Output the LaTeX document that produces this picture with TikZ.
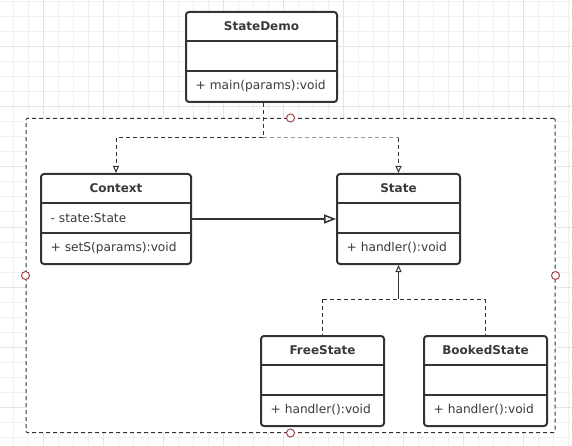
\documentclass[tikz,border=0pt]{standalone}
\usepackage{fontspec}
\setmainfont{DejaVu Sans}
\usetikzlibrary{arrows.meta}
\definecolor{ink}{HTML}{333333}
\definecolor{txt}{HTML}{3A3A3A}
\definecolor{gridminor}{HTML}{F0F0F0}
\definecolor{gridmajor}{HTML}{E4E4E4}
\definecolor{handle}{HTML}{A94444}
\definecolor{lightdash}{HTML}{9A9A9A}
\tikzset{
  classbox/.style={draw=ink, line width=2pt, rounded corners=3pt, fill=white, inner sep=0pt},
  divline/.style={draw=ink, line width=2pt},
  titletext/.style={font=\fontsize{12}{14}\selectfont\bfseries, text=txt, inner sep=0pt},
  membertext/.style={font=\fontsize{12.2}{14}\selectfont, text=txt, inner sep=0pt},
  frame/.style={draw=ink, line width=1pt, dash pattern=on 4pt off 3pt, fill=white, inner sep=0pt, rounded corners=1pt},
  dep/.style={draw=ink, line width=1pt, dash pattern=on 4pt off 3pt},
  smallhead/.style={-{Triangle[open, length=7pt, width=6pt, line width=1pt]}},
  bighead/.style={-{Triangle[open, length=12pt, width=9pt, line width=1.5pt]}},
  handlept/.style={circle, draw=handle, line width=1pt, fill=white, minimum size=8pt, inner sep=0pt},
}
\newcommand\umlclass[7]{%
  \node[classbox, minimum width=#4pt, minimum height=90pt, anchor=north west] (#1) at (#2,#3) {};
  \draw[divline] ([yshift=-30pt]#1.north west) -- ([yshift=-30pt]#1.north east);
  \draw[divline] ([yshift=-60pt]#1.north west) -- ([yshift=-60pt]#1.north east);
  \node[titletext] (#1-t) at ([yshift=-15pt]#1.north) {#5};
  \node[membertext, anchor=west] (#1-a) at ([xshift=10.5pt,yshift=-45pt]#1.north west) {#6};
  \node[membertext, anchor=west] (#1-m) at ([xshift=10.5pt,yshift=-75pt]#1.north west) {#7};
}
\begin{document}
\begin{tikzpicture}[x=1pt, y=-1pt]
\useasboundingbox (0,0) rectangle (572,446);
\fill[white] (0,0) rectangle (572,446);
% background grid
\foreach \gx in {13,28,...,572} {\draw[gridminor, line width=1pt] (\gx,0) -- (\gx,446);}
\foreach \gy in {2,17,...,446} {\draw[gridminor, line width=1pt] (0,\gy) -- (572,\gy);}
\foreach \gx in {43,103,...,572} {\draw[gridmajor, line width=1pt] (\gx,0) -- (\gx,446);}
\foreach \gy in {47,107,...,446} {\draw[gridmajor, line width=1pt] (0,\gy) -- (572,\gy);}
% container
\node[frame, minimum width=529pt, minimum height=314pt, anchor=north west] (frm) at (25.5,118) {};
% classes
\umlclass{demo}{185}{11}{151}{StateDemo}{}{+ main(params):void}
\umlclass{ctx}{40}{173}{150}{Context}{- state:State}{+ setS(params):void}
\umlclass{st}{336}{173}{123}{State}{}{+ handler():void}
\umlclass{fs}{260}{335}{123}{FreeState}{}{+ handler():void}
\umlclass{bs}{423}{335}{123}{BookedState}{}{+ handler():void}
% dependencies from StateDemo
\coordinate (j1) at ([xshift=1.5pt]demo.south |- 0,138);
\coordinate (jl) at (ctx.north |- j1);
\coordinate (jr) at (st.north |- j1);
\draw[dep] ([xshift=1.5pt]demo.south) -- (j1);
\draw[dep] (j1) -- (jl);
\draw[dep, smallhead] (jl) -- (ctx.north);
\draw[dep, draw=lightdash] (j1) -- (jr);
\draw[dep, smallhead] (jr) -- (st.north);
% association
\draw[ink, line width=1.5pt, bighead] (ctx.east) -- (st.west);
% inheritance
\coordinate (k) at (st.south |- 0,299);
\coordinate (kl) at (fs.north |- k);
\coordinate (kr) at (bs.north |- k);
\draw[ink, line width=1pt, smallhead] (k) -- (st.south);
\draw[dep] (kl) -- (kr);
\draw[dep] (kl) -- (fs.north);
\draw[dep] (kr) -- (bs.north);
% selection handles
\node[handlept] (h1) at (frm.north) {};
\node[handlept] (h2) at (frm.south) {};
\node[handlept] (h3) at (frm.west) {};
\node[handlept] (h4) at (frm.east) {};
\end{tikzpicture}
\end{document}
